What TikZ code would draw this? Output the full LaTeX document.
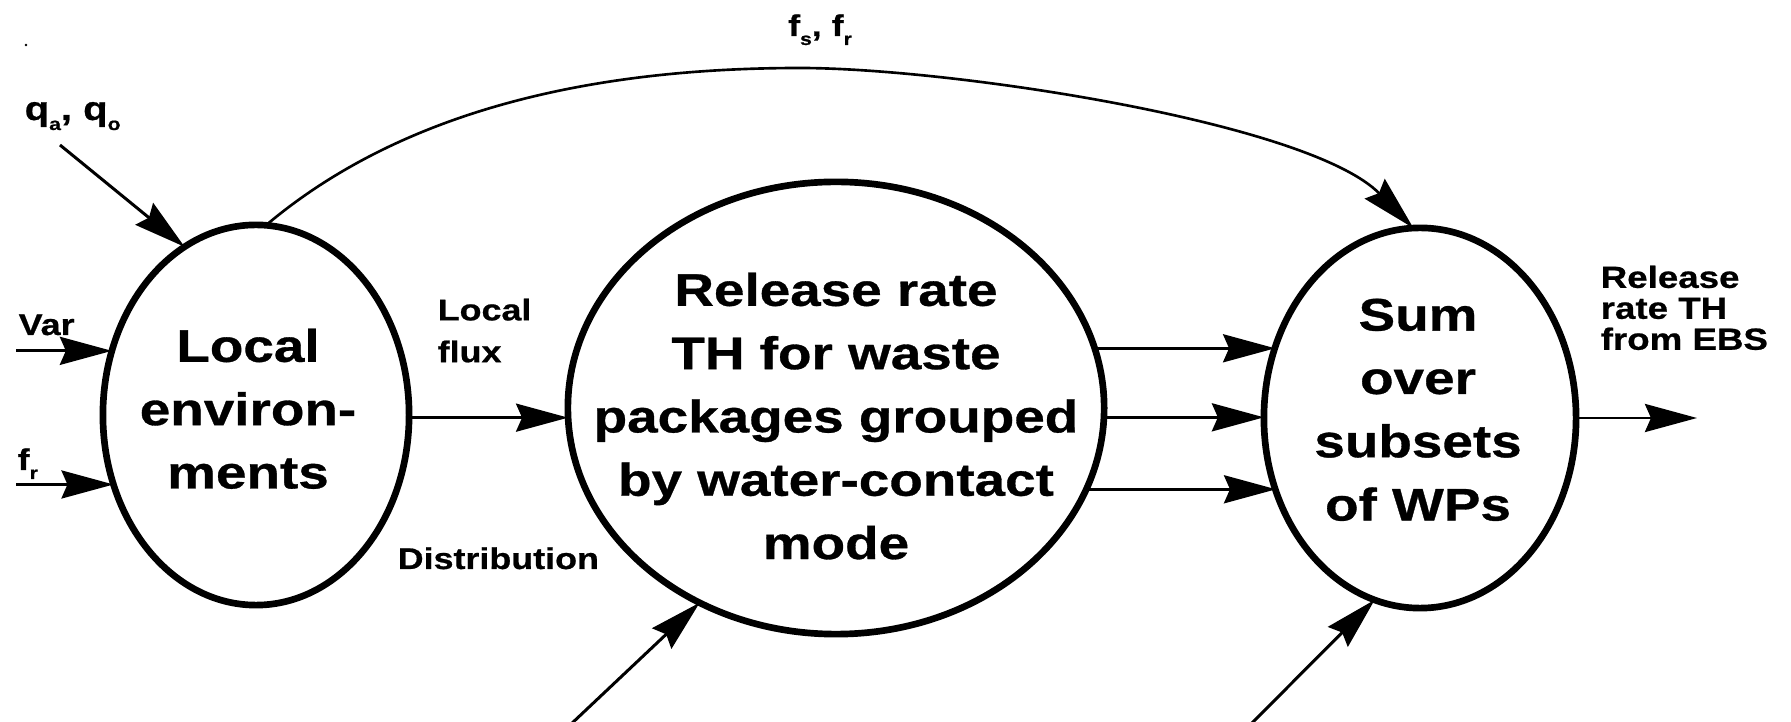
\documentclass[tikz,border=0pt]{standalone}
\usepackage{fontspec}
\setmainfont{Liberation Sans}[FakeStretch=1.2, BoldFeatures={FakeBold=0.7}]
\usetikzlibrary{arrows.meta,shapes.geometric}
% small, lowered index letters as in q_a, f_r
\newcommand\lsub[1]{\raisebox{-0.3em}{\fontsize{5}{5}\selectfont #1}}
\begin{document}
\begin{tikzpicture}[x=0.01cm, y=-0.01cm,
  bubble/.style={ellipse, draw, line width=1.9pt, fill=white, inner sep=0pt, outer sep=0pt},
  bigtext/.style={font=\bfseries\fontsize{13}{18}\selectfont, align=center, inner sep=0pt, anchor=north},
  smalltext/.style={font=\bfseries\fontsize{8.5}{8.65}\selectfont, inner sep=0pt},
  flow/.style={line width=0.85pt, -{Stealth[length=5.2mm,width=2.8mm,inset=0.6mm]}},
  bypass/.style={line width=0.75pt, -{Stealth[length=5.5mm,width=2.8mm,inset=0.6mm]}}
]
\useasboundingbox (0,0) rectangle (1791,722);
\fill[white] (0,0) rectangle (1791,722);

% the three stages
\node[bubble, minimum width=3.06cm, minimum height=3.80cm] (env) at (256,415) {};
\node[bubble, minimum width=5.36cm, minimum height=4.52cm] (mid) at (836,408) {};
\node[bubble, minimum width=3.12cm, minimum height=3.80cm] (sum) at (1420,418) {};

\node[bigtext] (envtxt) at (248,328) {Local\\environ-\\ments};
\node[bigtext] (midtxt) at (836,272) {Release rate\\TH for waste\\packages grouped\\by water-contact\\mode};
\node[bigtext] (sumtxt) at (1418,298) {Sum\\over\\subsets\\of WPs};

% labels
\node[font=\bfseries\fontsize{9.5}{10}\selectfont, inner sep=0pt, anchor=base west] (qlbl) at (24,120) {q\lsub{a}, q\lsub{o}};
\node[smalltext, anchor=base west] (varlbl) at (18,335) {Var};
\node[smalltext, anchor=base west] (frlbl) at (17,470) {f\lsub{r}};
\node[smalltext, anchor=base] (fsfrlbl) at (820,36) {f\lsub{s}, f\lsub{r}};
\node[smalltext, font=\bfseries\fontsize{8.5}{11.9}\selectfont, align=left, anchor=north west] (fluxlbl) at (437,298) {Local\\flux};
\node[smalltext, anchor=base west] (distlbl) at (397,569) {Distribution};
\node[smalltext, font=\bfseries\fontsize{8.7}{8.8}\selectfont, align=left, anchor=north west] (outlbl) at (1600,265) {Release\\rate TH\\from EBS};

% inputs to the local environments
\coordinate (qstart) at (60,145);
\draw[flow] (qstart) -- (env.113.5);
\coordinate (varstart) at (16,352);
\draw[flow] (varstart |- env.156.4) -- (env.156.4);
\coordinate (frstart) at (16,485);
\draw[flow] (frstart |- env.206.2) -- (env.206.2);

% local flux into the release-rate stage
\draw[flow] (env.-1.9) -- (mid.182.6 |- env.-1.9);

% grouped release rates into the sum
\draw[flow] (mid.13.1) -- (sum.154.2 |- mid.13.1);
\draw[flow] (mid.-2.6) -- (sum.180.7 |- mid.-2.6);
\draw[flow] (mid.-18.9) -- (sum.207.6 |- mid.-18.9);

% output
\coordinate (outend) at (1697,420);
\draw[flow] (sum.-0.7) -- (outend |- sum.-0.7);

% inputs from below
\coordinate (bl) at (569,726);
\draw[flow] (bl) -- (mid.235.8);
\coordinate (br) at (1250,725);
\draw[flow] (br) -- (sum.256);

% f_s, f_r bypass
\coordinate (arcpeak) at (800,68);
\draw[bypass] (env.87) .. controls (380,129) and (550,68) .. (arcpeak)
  .. controls (950,68) and (1309,122) .. (sum.92);

% stray mark
\fill (26,45) circle[radius=0.013cm];
\end{tikzpicture}
\end{document}
